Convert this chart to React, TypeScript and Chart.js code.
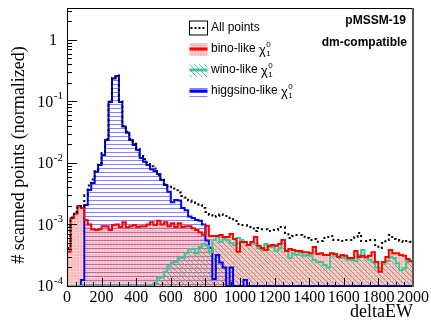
import React, { useEffect, useRef } from 'react';
import { Chart, registerables } from 'chart.js';

Chart.register(...registerables);

// ---- axis ranges / binning ----
const X_MIN = 0;
const X_MAX = 2000;
const BIN_WIDTH = 20;
const Y_MIN = 1e-4;
const Y_MAX = 3.3;
const X_TICKS = [0, 200, 400, 600, 800, 1000, 1200, 1400, 1600, 1800, 2000];
const Y_DECADES = [-4, -3, -2, -1, 0];

// ---- series (normalized counts per bin, 100 bins of 20) ----
const allPoints = [
  4.1e-4, 1.3e-3, 1.6e-3, 2.0e-3, 1.95e-3, 3.0e-3, 4.3e-3, 5.4e-3, 7.8e-3, 1.0e-2,
  1.45e-2, 2.45e-2, 0.1, 0.24, 0.265, 0.1, 0.04, 0.032, 0.0245, 0.0205,
  0.017, 0.013, 0.0115, 0.0102, 8.8e-3, 8.1e-3, 6.3e-3, 5.4e-3, 4.5e-3, 4.0e-3,
  4.1e-3, 3.6e-3, 3.3e-3, 2.9e-3, 2.75e-3, 2.45e-3, 2.3e-3, 2.25e-3, 2.07e-3, 1.85e-3,
  1.6e-3, 1.43e-3, 1.33e-3, 1.37e-3, 1.47e-3, 1.37e-3, 1.37e-3, 1.28e-3, 1.14e-3, 1.02e-3,
  9.8e-4, 9.8e-4, 9.5e-4, 9.1e-4, 7.8e-4, 8.8e-4, 8.4e-4, 8.4e-4, 7.8e-4, 8.1e-4,
  8.1e-4, 9.1e-4, 9.1e-4, 7.3e-4, 6.0e-4, 6.5e-4, 6.75e-4, 6.75e-4, 6.3e-4, 6.0e-4,
  5.6e-4, 5.8e-4, 5.25e-4, 5.4e-4, 6.0e-4, 6.25e-4, 6.5e-4, 5.6e-4, 5.6e-4, 5.4e-4,
  5.6e-4, 5.6e-4, 5.6e-4, 6.25e-4, 7.3e-4, 5.4e-4, 5.4e-4, 5.6e-4, 5.6e-4, 4.65e-4,
  4.15e-4, 5.0e-4, 5.6e-4, 6.75e-4, 5.8e-4, 5.6e-4, 5.4e-4, 5.2e-4, 5.4e-4, 5.25e-4,
];

const binoLike = [
  3.6e-4, 1.28e-3, 1.5e-3, 2.0e-3, 1.85e-3, 1.18e-3, 1.0e-3, 8.4e-4, 8.1e-4, 8.4e-4,
  9.4e-4, 9.4e-4, 8.1e-4, 9.8e-4, 1.0e-3, 9.1e-4, 1.09e-3, 9.0e-4, 9.4e-4, 9.8e-4,
  9.1e-4, 9.4e-4, 9.4e-4, 1.0e-3, 1.09e-3, 9.8e-4, 1.15e-3, 1.0e-3, 1.09e-3, 9.4e-4,
  1.05e-3, 9.1e-4, 1.05e-3, 9.1e-4, 9.4e-4, 9.4e-4, 8.7e-4, 8.1e-4, 7.5e-4, 6.8e-4,
  9.5e-4, 6.5e-4, 6.5e-4, 6.5e-4, 6.75e-4, 6.25e-4, 6.25e-4, 7.0e-4, 5.8e-4, 3.6e-4,
  5.2e-4, 5.2e-4, 4.65e-4, 5.2e-4, 6.25e-4, 4.5e-4, 4.15e-4, 3.85e-4, 4.5e-4, 4.65e-4,
  4.5e-4, 4.8e-4, 5.6e-4, 3.7e-4, 4.0e-4, 3.85e-4, 3.7e-4, 3.7e-4, 3.55e-4, 3.55e-4,
  3.4e-4, 4.3e-4, 3.3e-4, 3.4e-4, 3.2e-4, 3.2e-4, 3.4e-4, 3.3e-4, 2.95e-4, 3.2e-4,
  3.1e-4, 2.85e-4, 2.85e-4, 3.7e-4, 2.95e-4, 3.1e-4, 2.95e-4, 3.1e-4, 3.55e-4, 2.45e-4,
  1.7e-4, 2.45e-4, 2.95e-4, 3.85e-4, 3.4e-4, 3.4e-4, 3.2e-4, 3.1e-4, 2.75e-4, 2.55e-4,
];

const winoLike = [
  0, 0, 0, 0, 0, 0, 0, 0, 0, 0,
  0, 0, 0, 0, 0, 0, 0, 0, 0, 0,
  0, 0, 0, 0, 0, 1.1e-4, 1.35e-4, 1.4e-4, 1.7e-4, 2.1e-4,
  2.4e-4, 2.45e-4, 2.85e-4, 2.85e-4, 3.4e-4, 4.0e-4, 4.0e-4, 3.4e-4, 4.3e-4, 4.8e-4,
  4.5e-4, 3.55e-4, 5.6e-4, 6.25e-4, 5.2e-4, 6.0e-4, 5.6e-4, 5.0e-4, 4.65e-4, 6.0e-4,
  5.6e-4, 5.2e-4, 4.65e-4, 5.0e-4, 4.8e-4, 4.1e-4, 3.85e-4, 4.8e-4, 4.3e-4, 4.3e-4,
  3.7e-4, 4.1e-4, 5.6e-4, 3.85e-4, 2.85e-4, 3.4e-4, 3.2e-4, 3.55e-4, 3.1e-4, 3.2e-4,
  3.1e-4, 2.65e-4, 2.45e-4, 2.45e-4, 2.2e-4, 2.0e-4, 3.4e-4, 3.1e-4, 2.95e-4, 2.85e-4,
  2.85e-4, 2.65e-4, 2.65e-4, 2.55e-4, 3.2e-4, 3.85e-4, 2.85e-4, 2.65e-4, 2.45e-4, 2.0e-4,
  1.95e-4, 2.3e-4, 2.55e-4, 2.95e-4, 2.85e-4, 2.35e-4, 1.8e-4, 1.95e-4, 2.55e-4, 2.45e-4,
];

const higgsinoLike = [
  0, 0, 0, 0, 1.25e-4, 2.07e-3, 3.64e-3, 4.7e-3, 7.2e-3, 9.3e-3,
  1.35e-2, 2.37e-2, 0.098, 0.235, 0.26, 0.098, 0.039, 0.031, 0.0237, 0.0196,
  0.0163, 0.012, 0.0105, 9.3e-3, 7.9e-3, 7.4e-3, 6.6e-3, 5.3e-3, 4.4e-3, 3.4e-3,
  2.3e-3, 2.5e-3, 2.45e-3, 1.85e-3, 1.7e-3, 1.35e-3, 1.28e-3, 1.18e-3, 1.15e-3, 1.0e-3,
  5.5e-4, 4.2e-4, 1.3e-4, 3.2e-4, 2.4e-4, 2.0e-4, 0, 2.0e-4, 0, 0,
  0, 1.25e-4, 0, 0, 0, 0, 0, 0, 0, 0,
  0, 0, 0, 0, 0, 0, 0, 0, 0, 0,
  0, 0, 0, 0, 0, 0, 0, 0, 0, 0,
  0, 0, 0, 0, 0, 0, 0, 0, 0, 0,
  0, 0, 0, 0, 0, 0, 0, 0, 0, 0,
];

const SERIES_LABELS = ['All points', 'bino-like', 'wino-like', 'higgsino-like'];
const TAG_LINES = ['pMSSM-19', 'dm-compatible'];
const X_TITLE = 'deltaEW';
const Y_TITLE = '# scanned points (normalized)';

const RED = '#ff0000';
const TEAL = '#3cc896';
const BLUE = '#0000ff';

const SERIF = '"Liberation Serif", "Times New Roman", serif';
const SANS = '"Liberation Sans", Arial, sans-serif';

function toSteps(vals: number[]) {
  const pts = vals.map((v, i) => ({ x: X_MIN + i * BIN_WIDTH, y: v > 0 ? v : Y_MIN }));
  pts.push({ x: X_MAX, y: pts[pts.length - 1].y });
  return pts;
}

function makePattern(ctx: CanvasRenderingContext2D, w: number, h: number, draw: (g: CanvasRenderingContext2D) => void) {
  const c = document.createElement('canvas');
  c.width = w;
  c.height = h;
  const g = c.getContext('2d') as CanvasRenderingContext2D;
  draw(g);
  return ctx.createPattern(c, 'repeat') as CanvasPattern;
}

export default function App() {
  const ref = useRef<HTMLCanvasElement | null>(null);

  useEffect(() => {
    const canvas = ref.current;
    if (!canvas) return;
    const ctx0 = canvas.getContext('2d') as CanvasRenderingContext2D;

    const redPat = makePattern(ctx0, 3, 3, (g) => {
      g.fillStyle = 'rgba(255,60,60,0.34)';
      g.fillRect(0, 0, 3, 3);
      g.clearRect(1, 1, 1, 1);
      g.fillStyle = 'rgba(255,150,150,0.15)';
      g.fillRect(1, 1, 1, 1);
    });
    const tealPat = makePattern(ctx0, 5, 5, (g) => {
      g.fillStyle = 'rgba(60,200,150,0.9)';
      for (let i = 0; i < 5; i++) g.fillRect(i, i, 1, 1);
    });
    const bluePat = makePattern(ctx0, 4, 4, (g) => {
      g.fillStyle = 'rgba(100,100,255,0.8)';
      g.fillRect(0, 0, 4, 1);
    });

    const drawChi = (ctx: CanvasRenderingContext2D, x: number, y: number) => {
      ctx.font = `13px ${SANS}`;
      ctx.textBaseline = 'middle';
      ctx.textAlign = 'left';
      ctx.fillText('χ', x, y + 1);
      const w = ctx.measureText('χ').width;
      ctx.font = `8px ${SANS}`;
      ctx.fillText('0', x + w + 0.5, y - 4);
      ctx.fillText('1', x + w + 0.5, y + 5);
    };

    const decorations = {
      id: 'decorations',
      afterDraw(chart: any) {
        const { ctx, chartArea: a, scales } = chart;
        const xs = scales.x;
        const ys = scales.y;
        ctx.save();

        // tick marks (inside)
        ctx.strokeStyle = '#000';
        ctx.lineWidth = 1;
        ctx.beginPath();
        for (let v = X_MIN; v <= X_MAX; v += 50) {
          const px = Math.round(xs.getPixelForValue(v)) + 0.5;
          const len = v % 200 === 0 ? 8 : 4;
          ctx.moveTo(px, a.bottom);
          ctx.lineTo(px, a.bottom - len);
        }
        for (const d of Y_DECADES) {
          for (let m = 1; m <= 9; m++) {
            const v = m * Math.pow(10, d);
            if (v > Y_MAX) break;
            const py = Math.round(ys.getPixelForValue(v)) + 0.5;
            const len = m === 1 ? 10 : 5;
            ctx.moveTo(a.left, py);
            ctx.lineTo(a.left + len, py);
          }
        }
        ctx.stroke();

        // frame
        ctx.strokeStyle = '#000';
        ctx.lineWidth = 1;
        ctx.strokeRect(a.left + 0.5, a.top + 0.5, a.right - a.left - 1, a.bottom - a.top);
        ctx.strokeStyle = '#555';
        ctx.lineWidth = 2;
        ctx.beginPath();
        ctx.moveTo(a.right, a.top);
        ctx.lineTo(a.right, a.bottom + 1);
        ctx.stroke();

        // x tick labels
        ctx.fillStyle = '#000';
        ctx.font = `16px ${SERIF}`;
        ctx.textAlign = 'center';
        ctx.textBaseline = 'top';
        for (const v of X_TICKS) {
          ctx.fillText(String(v), xs.getPixelForValue(v), a.bottom + 4);
        }

        // y tick labels
        for (const d of Y_DECADES) {
          const py = ys.getPixelForValue(Math.pow(10, d));
          const right = a.left - 4;
          ctx.textAlign = 'right';
          ctx.textBaseline = 'middle';
          if (d === 0) {
            ctx.font = `16px ${SERIF}`;
            ctx.fillText('1', right - 6, py + 1);
          } else {
            ctx.font = `11px ${SERIF}`;
            const sup = String(d);
            const sw = ctx.measureText(sup).width;
            ctx.fillText(sup, right, py - 5);
            ctx.font = `16px ${SERIF}`;
            ctx.fillText('10', right - sw - 0.5, py + 1);
          }
        }

        // axis titles
        ctx.font = `18px ${SERIF}`;
        ctx.textAlign = 'right';
        ctx.textBaseline = 'middle';
        ctx.fillText(X_TITLE, a.right, 312);
        ctx.save();
        ctx.translate(19, 155);
        ctx.rotate(-Math.PI / 2);
        ctx.textAlign = 'center';
        ctx.fillText(Y_TITLE, 0, 0);
        ctx.restore();

        // tag text
        ctx.font = `bold 12px ${SANS}`;
        ctx.textAlign = 'right';
        ctx.textBaseline = 'middle';
        ctx.fillText(TAG_LINES[0], 406, 21);
        ctx.fillText(TAG_LINES[1], 407, 43);

        // legend
        const sx = 189.5;
        const sw = 18;
        const rows = [28, 49, 70, 91];
        ctx.lineWidth = 1;
        ctx.strokeStyle = '#000';
        ctx.strokeRect(sx, rows[0] - 7, sw, 14);
        ctx.setLineDash([2, 2]);
        ctx.lineWidth = 2;
        ctx.beginPath();
        ctx.moveTo(sx + 1, rows[0]);
        ctx.lineTo(sx + sw - 1, rows[0]);
        ctx.stroke();
        ctx.setLineDash([]);
        const fillRows: [number, CanvasPattern, string][] = [
          [rows[1], redPat, RED],
          [rows[2], tealPat, TEAL],
          [rows[3], bluePat, BLUE],
        ];
        for (const [ry, pat, col] of fillRows) {
          ctx.fillStyle = pat;
          ctx.fillRect(sx, ry - 6, sw, 13);
          ctx.strokeStyle = col;
          ctx.lineWidth = 3;
          ctx.beginPath();
          ctx.moveTo(sx, ry);
          ctx.lineTo(sx + sw, ry);
          ctx.stroke();
        }
        ctx.fillStyle = '#000';
        ctx.font = `12px ${SANS}`;
        ctx.textAlign = 'left';
        ctx.textBaseline = 'middle';
        const tx = 211;
        ctx.fillText(SERIES_LABELS[0], tx, rows[0]);
        for (let i = 1; i < 4; i++) {
          ctx.font = `12px ${SANS}`;
          ctx.textAlign = 'left';
          ctx.textBaseline = 'middle';
          const label = SERIES_LABELS[i] + ' ';
          ctx.fillText(label, tx, rows[i]);
          const w = ctx.measureText(label).width;
          drawChi(ctx, tx + w, rows[i]);
        }
        ctx.restore();
      },
    };

    const chart = new Chart(canvas, {
      type: 'line',
      data: {
        datasets: [
          {
            label: SERIES_LABELS[0],
            data: toSteps(allPoints),
            stepped: 'before',
            borderColor: '#000',
            borderWidth: 2,
            borderDash: [2, 3],
            fill: false,
            pointRadius: 0,
          },
          {
            label: SERIES_LABELS[1],
            data: toSteps(binoLike),
            stepped: 'before',
            borderColor: RED,
            borderWidth: 2,
            fill: 'start',
            backgroundColor: redPat,
            pointRadius: 0,
          },
          {
            label: SERIES_LABELS[2],
            data: toSteps(winoLike),
            stepped: 'before',
            borderColor: TEAL,
            borderWidth: 2,
            fill: 'start',
            backgroundColor: tealPat,
            pointRadius: 0,
          },
          {
            label: SERIES_LABELS[3],
            data: toSteps(higgsinoLike),
            stepped: 'before',
            borderColor: BLUE,
            borderWidth: 2,
            fill: 'start',
            backgroundColor: bluePat,
            pointRadius: 0,
          },
        ],
      } as any,
      options: {
        animation: false,
        responsive: false,
        devicePixelRatio: 1,
        layout: { padding: { top: 8, right: 18, left: 0, bottom: 0 } },
        plugins: {
          legend: { display: false },
          tooltip: { enabled: false },
          filler: { drawTime: 'beforeDatasetsDraw' },
        } as any,
        scales: {
          x: {
            type: 'linear',
            min: X_MIN,
            max: X_MAX,
            grid: { display: false },
            border: { display: false },
            ticks: { display: false },
            afterFit: (s: any) => { s.height = 35; },
          },
          y: {
            type: 'logarithmic',
            min: Y_MIN,
            max: Y_MAX,
            grid: { display: false },
            border: { display: false },
            ticks: { display: false },
            afterFit: (s: any) => { s.width = 67; },
          },
        } as any,
      },
      plugins: [decorations],
    });

    return () => chart.destroy();
  }, []);

  return (
    <div style={{ position: 'absolute', left: 0, top: 0, width: 431, height: 321, background: '#fff' }}>
      <canvas ref={ref} width={431} height={321} style={{ display: 'block' }} />
    </div>
  );
}
